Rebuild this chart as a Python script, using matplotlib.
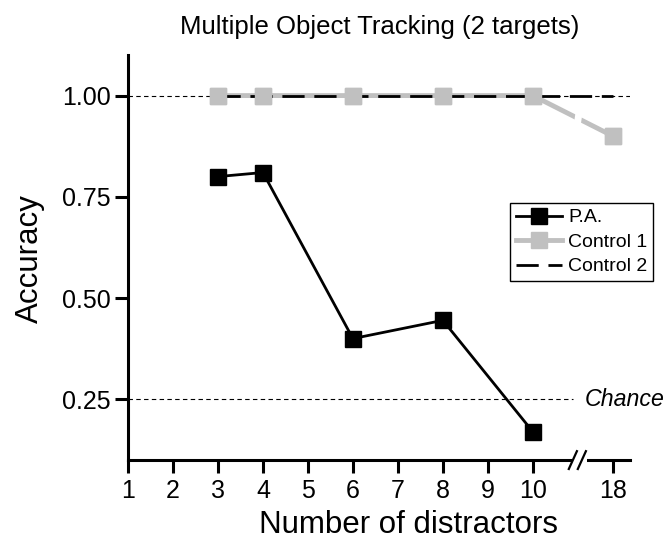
import matplotlib
matplotlib.use('Agg')
import matplotlib.pyplot as plt

plt.rcParams['font.family'] = ['Liberation Sans', 'DejaVu Sans']

# data
pa_x = [3, 4, 6, 8, 10]
pa_y = [0.80, 0.81, 0.40, 0.445, 0.17]
c1_x = [3, 4, 6, 8, 10, 18]
c1_y = [1.0, 1.0, 1.0, 1.0, 1.0, 0.90]
c2_x = [3, 4, 6, 8, 10, 18]
c2_y = [1.0, 1.0, 1.0, 1.0, 1.0, 1.0]
tick_vals = [1, 2, 3, 4, 5, 6, 7, 8, 9, 10, 18]
y_ticks = [0.25, 0.50, 0.75, 1.00]
chance = 0.25

def xpos(n):
    # broken axis: everything past 10 is squeezed
    return n if n <= 10 else 10 + (n - 10) * 0.2225

fig = plt.figure(figsize=(6.68, 5.4), dpi=100)
ax = fig.add_axes([0.1916, 0.148, 0.7515, 0.75])

ax.axhline(1.0, color='black', lw=0.8, dashes=(4, 3), zorder=1)
ax.plot([1, 10.89], [chance, chance], color='black', lw=0.8, dashes=(4, 3), zorder=1)

gray = '#c0c0c0'
l1, = ax.plot([xpos(v) for v in c1_x], c1_y, color=gray, lw=3.5, marker='s', ms=12, zorder=2)
l2, = ax.plot([xpos(v) for v in c2_x], c2_y, color='black', lw=2, dashes=(8, 3.5), zorder=3)
ax.plot([xpos(v) for v in c1_x], c1_y, color=gray, lw=0, marker='s', ms=12, zorder=4)
l0, = ax.plot(pa_x, pa_y, color='black', lw=2, marker='s', ms=12, zorder=5)

ax.set_xlim(1, 12.16)
ax.set_ylim(0.1, 1.1)
ax.set_xticks([xpos(v) for v in tick_vals])
ax.set_xticklabels([str(v) for v in tick_vals])
ax.set_yticks(y_ticks)
ax.set_yticklabels(['%.2f' % v for v in y_ticks])

for s in ['top', 'right']:
    ax.spines[s].set_visible(False)
for s in ['left', 'bottom']:
    ax.spines[s].set_linewidth(2.2)
ax.tick_params(direction='out', length=9.4, width=2.2, labelsize=18)
ax.tick_params(axis='x', pad=4)
ax.tick_params(axis='y', pad=3)

# axis break marks
ax.plot([10.86, 11.2], [0.1, 0.1], color='white', lw=4, clip_on=False, zorder=10,
        solid_capstyle='butt')
for bx in (10.89, 11.09):
    ax.plot([bx - 0.09, bx + 0.09], [0.078, 0.122], color='black', lw=1.6,
            clip_on=False, zorder=11)
ax.plot([10.95, 11.03], [0.9, 0.96], color='white', lw=5, zorder=6)

ax.text(11.16, chance, 'Chance', style='italic', fontsize=16.7, va='center', ha='left')

fig.text(0.569, 0.95, 'Multiple Object Tracking (2 targets)', fontsize=18.5, ha='center', va='center')
fig.text(0.612, 0.013, 'Number of distractors', fontsize=22.5, ha='center', va='baseline')
fig.text(0.045, 0.522, 'Accuracy', fontsize=22.5, ha='center', va='center', rotation=90)

leg = ax.legend([l0, l1, l2], ['P.A.', 'Control 1', 'Control 2'], loc='upper left',
                bbox_to_anchor=(0.763, 0.624), bbox_transform=fig.transFigure,
                fontsize=14, handlelength=2.4, handletextpad=0.3, labelspacing=0.35,
                borderpad=0.3, borderaxespad=0, fancybox=False, framealpha=1)
leg.get_frame().set_edgecolor('black')
leg.get_frame().set_linewidth(1)

fig.savefig('out.png', dpi=100)
